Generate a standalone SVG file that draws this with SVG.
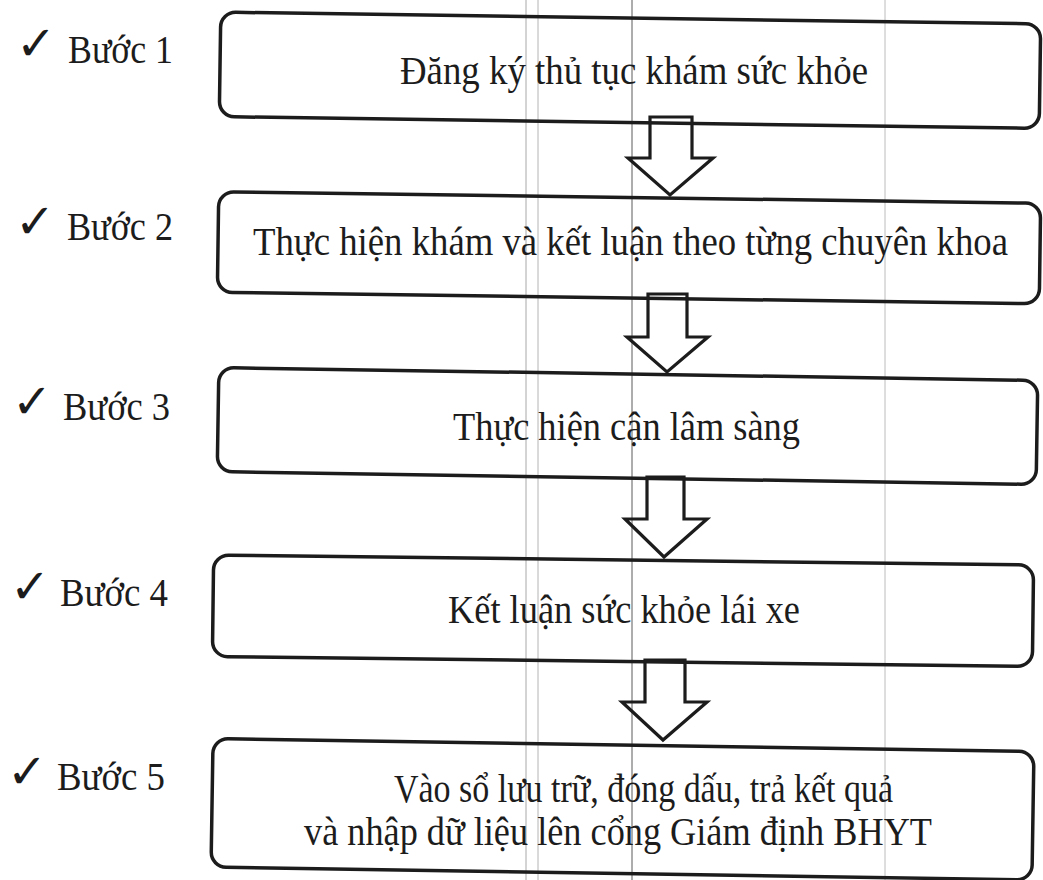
<svg xmlns="http://www.w3.org/2000/svg" width="1043" height="880" viewBox="0 0 1043 880">
<style>
.box{fill:none;stroke:#1c1c1c;stroke-width:3.5}
.arr{fill:none;stroke:#1c1c1c;stroke-width:3.2;stroke-linejoin:miter}
.t{font-family:"Liberation Serif","Times New Roman",serif;font-size:39px;fill:#1c1c1c}
.lb{font-family:"Liberation Serif","Times New Roman",serif;font-size:40px;fill:#1c1c1c}
.ck{font-family:"DejaVu Sans",sans-serif;font-size:48px;fill:#1c1c1c}
.scan{stroke-width:1}
</style>
<rect width="1043" height="880" fill="#ffffff"/>
<g id="scan-lines">
<line class="scan" x1="526" y1="0" x2="526" y2="880" stroke="#a8a8a8"/>
<line class="scan" x1="538" y1="0" x2="538" y2="880" stroke="#b4b4b4"/>
<line class="scan" x1="632" y1="0" x2="632" y2="880" stroke="#5a5a5a"/>
<line class="scan" x1="885" y1="0" x2="885" y2="880" stroke="#bcbcbc"/>
</g>
<g id="labels">
<text class="ck" x="16" y="60">✓</text><text class="lb" x="68" y="63" textLength="105" lengthAdjust="spacingAndGlyphs">Bước 1</text>
<text class="ck" x="15" y="238">✓</text><text class="lb" x="67" y="240" textLength="106" lengthAdjust="spacingAndGlyphs">Bước 2</text>
<text class="ck" x="12" y="418">✓</text><text class="lb" x="63" y="420" textLength="107" lengthAdjust="spacingAndGlyphs">Bước 3</text>
<text class="ck" x="10" y="603">✓</text><text class="lb" x="60" y="606" textLength="108" lengthAdjust="spacingAndGlyphs">Bước 4</text>
<text class="ck" x="7" y="788">✓</text><text class="lb" x="57" y="790" textLength="108" lengthAdjust="spacingAndGlyphs">Bước 5</text>
</g>
<g id="step1">
<rect class="box" x="220" y="18" width="820" height="104.5" rx="15" transform="rotate(0.82 630 70.25)"/>
<text class="t" x="400" y="84" textLength="468" lengthAdjust="spacingAndGlyphs">Đăng ký thủ tục khám sức khỏe</text>
</g>
<g id="step2">
<rect class="box" x="218" y="197.5" width="822" height="100.5" rx="15" transform="rotate(0.8 629 247.75)"/>
<text class="t" x="253" y="255" textLength="755" lengthAdjust="spacingAndGlyphs">Thực hiện khám và kết luận theo từng chuyên khoa</text>
</g>
<g id="step3">
<rect class="box" x="218" y="374" width="819" height="104" rx="15" transform="rotate(0.9 627.5 426)"/>
<text class="t" x="453" y="440" textLength="347" lengthAdjust="spacingAndGlyphs">Thực hiện cận lâm sàng</text>
</g>
<g id="step4">
<rect class="box" x="213" y="560" width="820" height="101.5" rx="15" transform="rotate(0.7 623 610.75)"/>
<text class="t" x="448" y="623" textLength="352" lengthAdjust="spacingAndGlyphs">Kết luận sức khỏe lái xe</text>
</g>
<g id="step5">
<rect class="box" x="212" y="745" width="821" height="128.5" rx="15" transform="rotate(0.9 622.5 809.25)"/>
<text class="t" x="394" y="802" textLength="499" lengthAdjust="spacingAndGlyphs">Vào sổ lưu trữ, đóng dấu, trả kết quả</text>
<text class="t" x="304" y="845" textLength="628" lengthAdjust="spacingAndGlyphs">và nhập dữ liệu lên cổng Giám định BHYT</text>
</g>
<g id="connectors">
<path class="arr" d="M650,117 H692 V158 H713 L670,195 L628,158 H650 Z"/>
<path class="arr" d="M648,294 H687 V337 H708 L667,372 L627,337 H648 Z"/>
<path class="arr" d="M647,477 H684 V519 H707 L664,557 L625,519 H647 Z"/>
<path class="arr" d="M645,660 H685 V702 H707 L663,740 L622,702 H645 Z"/>
</g>
</svg>
